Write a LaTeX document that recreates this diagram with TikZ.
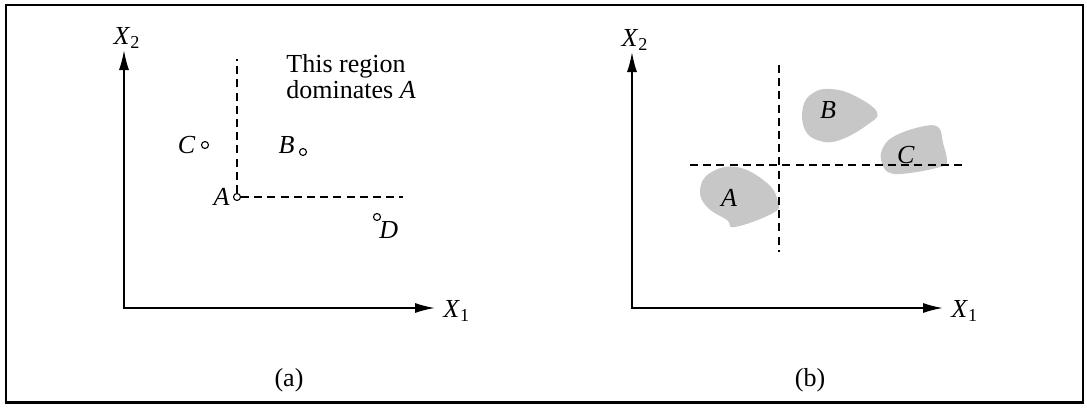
\documentclass[tikz,border=0pt]{standalone}
\usepackage{fontspec}
\setmainfont{Liberation Serif}
\usetikzlibrary{arrows.meta, positioning}

\begin{document}
\begin{tikzpicture}[
    x=0.5pt, y=-0.5pt,
    axisLine/.style={line width=0.8pt, {Latex[length=10pt,width=5pt]}-{Latex[length=10pt,width=5pt]}}, % axes with both tips
    cutLine/.style={line width=0.65pt, dash pattern=on 4pt off 2.6pt}, % dashed dominance lines
    dotPt/.style={circle, draw, line width=0.55pt, inner sep=0pt, minimum size=3.5pt}, % small hollow point
    blobFill/.style={fill=black!22, draw=none}, % grey region
    lbl/.style={font=\fontsize{13}{11.5}\selectfont, inner sep=1pt},
]
    \useasboundingbox (0,0) rectangle (1087,407);

    % 0. frame
    \draw[line width=1pt] (6,4.5) rectangle (1082.5,402.5);
    \draw[line width=1.6pt] (5.5,402.8) -- (1083,402.8);

    % 1. panel (a): axes
    \coordinate (oa) at (124,308);
    \coordinate (ya) at (124,50);
    \coordinate (xa) at (435,308);
    \draw[axisLine] (ya) -- (oa) -- (xa);
    \node[lbl, anchor=west] (xa-l) at (441,311) {\textit{X}\textsubscript{1}};
    \node[lbl] (ya-l) at (127,38) {\textit{X}\textsubscript{2}};

    % 2. panel (a): points and dominated region
    \node[dotPt] (pA) at (237,197) {};
    \node[dotPt] (pB) at (303,152) {};
    \node[dotPt] (pC) at (205,145) {};
    \node[dotPt] (pD) at (377,217) {};
    \coordinate (vtop) at (237,59);
    \coordinate (hend) at (403,197);
    \draw[cutLine] (pA.north) -- (vtop);
    \draw[cutLine] (pA.east) -- (hend);
    \node[lbl, left=0.5pt of pA] (lA) {\textit{A}};
    \node[lbl, anchor=east] (lB) at (297,145) {\textit{B}};
    \node[lbl, left=1.5pt of pC] (lC) {\textit{C}};
    \node[lbl, anchor=north west] (lD) at (377,219) {\textit{D}};
    \node[lbl, align=left, anchor=north west] (note) at (284,52) {This region\\dominates \textit{A}};
    \node[lbl] (cap-a) at (289,380) {(a)};

    % 3. panel (b): axes
    \coordinate (ob) at (632,308);
    \coordinate (yb) at (632,52);
    \coordinate (xb) at (943,308);
    \draw[axisLine] (yb) -- (ob) -- (xb);
    \node[lbl, anchor=west] (xb-l) at (949,311) {\textit{X}\textsubscript{1}};
    \node[lbl] (yb-l) at (635,40) {\textit{X}\textsubscript{2}};

    % 4. panel (b): grey regions
    \fill[blobFill] plot[smooth cycle, tension=0.7] coordinates {(700,190) (710,173) (737,167) (767,183) (778,202) (773,213) (735,227) (727,220) (707,207)};
    \fill[blobFill] plot[smooth cycle, tension=0.7] coordinates {(803,107) (813,93) (830,89) (853,95) (877,112) (867,125) (840,140) (820,141) (805,130)};
    \fill[blobFill] plot[smooth cycle, tension=0.7] coordinates {(882,150) (893,137) (920,127) (938,127) (943,143) (947,162) (940,167) (910,173) (890,173) (882,163)};

    % 5. panel (b): dashed cuts and labels
    \coordinate (vb-t) at (779,65);
    \coordinate (vb-b) at (779,252);
    \coordinate (hb-l) at (690,165);
    \coordinate (hb-r) at (967,165);
    \draw[cutLine] (vb-t) -- (vb-b);
    \draw[cutLine] (hb-l) -- (hb-r);
    \node[lbl] (rA) at (729,198) {\textit{A}};
    \node[lbl] (rB) at (828,110) {\textit{B}};
    \node[lbl] (rC) at (906,155) {\textit{C}};
    \node[lbl] (cap-b) at (810,380) {(b)};
\end{tikzpicture}
\end{document}
